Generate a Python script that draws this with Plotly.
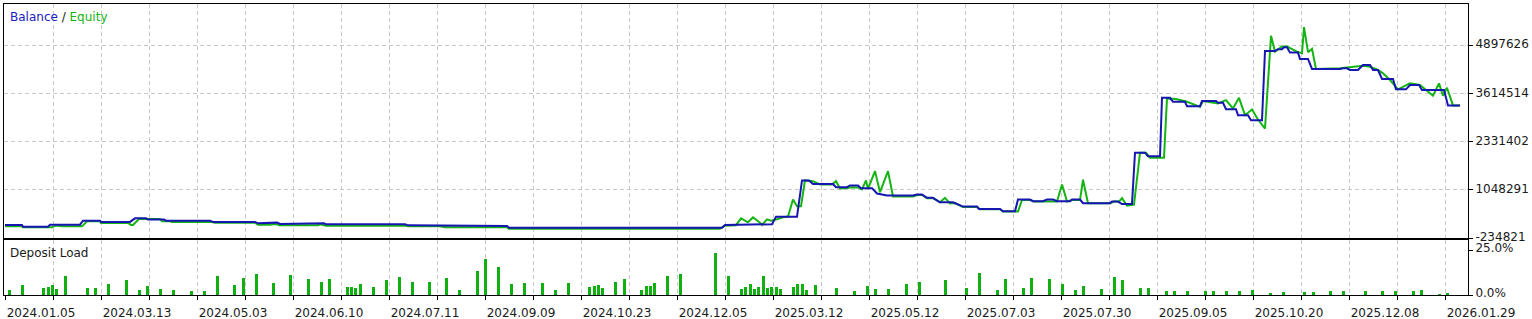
import plotly.graph_objects as go

# ---------------- data ----------------
date_labels = ["2024.01.05", "2024.03.13", "2024.05.03", "2024.06.10", "2024.07.11",
               "2024.09.09", "2024.10.23", "2024.12.05", "2025.03.12", "2025.05.12",
               "2025.07.03", "2025.07.30", "2025.09.05", "2025.10.20", "2025.12.08",
               "2026.01.29"]
date_ticks = [0, 96, 192, 288, 384, 480, 576, 672, 768, 864, 960, 1056, 1152, 1248, 1344, 1440]

balance_ticks = [-234821, 1048291, 2331402, 3614514, 4897626]

bal_deal = [0, 17, 18, 43, 45, 75, 78, 95, 96, 125, 130, 141, 143, 159, 161, 205, 208, 250,
            253, 264, 266, 272, 275, 312, 314, 319, 321, 400, 403, 435, 438, 502, 504, 717,
            720, 733, 735, 767, 771, 792, 797, 804, 808, 828, 831, 842, 845, 853, 856, 867,
            872, 882, 908, 912, 917, 922, 928, 935, 948, 958, 972, 974, 995, 998, 1010, 1013,
            1025, 1028, 1038, 1042, 1048, 1052, 1065, 1067, 1075, 1078, 1105, 1107, 1113, 1117,
            1127, 1130, 1140, 1143, 1155, 1157, 1165, 1168, 1180, 1182, 1195, 1197, 1211, 1213,
            1218, 1221, 1231, 1233, 1243, 1246, 1257, 1260, 1270, 1273, 1277, 1279, 1282, 1285,
            1293, 1295, 1303, 1307, 1335, 1338, 1342, 1345, 1353, 1358, 1365, 1368, 1373, 1377,
            1388, 1391, 1401, 1405, 1414, 1417, 1439, 1443, 1455]
balance = [112700, 112700, 67200, 67200, 120700, 120700, 227600, 227600, 192900, 192900,
           289100, 289100, 254400, 254400, 227600, 227600, 192900, 192900, 155500, 155500,
           174200, 174200, 139400, 139400, 155500, 155500, 128700, 128700, 102000, 102000,
           86000, 86000, 40500, 40500, 112700, 112700, 131400, 131400, 329200, 329200,
           1296900, 1296900, 1203300, 1203300, 1117800, 1117800, 1163200, 1163200, 1091100, 1091100,
           949400, 895900, 895900, 922700, 922700, 834400, 834400, 716800, 716800, 601900,
           601900, 540400, 540400, 476200, 476200, 789000, 789000, 743600, 743600, 789000,
           789000, 743600, 743600, 789000, 789000, 690100, 690100, 735500, 735500, 668700,
           668700, 2037400, 2037400, 1938500, 1938500, 3496900, 3496900, 3390000, 3390000, 3275000,
           3275000, 3408700, 3408700, 3363200, 3363200, 3194800, 3194800, 3034400, 3034400, 2900800,
           2900800, 4745300, 4745300, 4790700, 4790700, 4844200, 4844200, 4699800, 4699800, 4531400,
           4531400, 4264100, 4264100, 4282800, 4282800, 4237400, 4237400, 4371000, 4371000, 4237400,
           4237400, 3996800, 3996800, 3721400, 3721400, 3836400, 3836400, 3702700, 3702700, 3293700,
           3293700]

eq_deal = [0, 17, 18, 47, 51, 57, 77, 82, 95, 96, 123, 126, 128, 134, 155, 157, 165, 167,
           207, 210, 250, 253, 265, 270, 275, 313, 315, 321, 400, 403, 435, 440, 502, 504,
           715, 720, 731, 736, 743, 748, 755, 757, 762, 766, 772, 778, 783, 788, 792, 796,
           800, 808, 815, 827, 831, 835, 842, 847, 853, 857, 861, 863, 870, 875, 883, 888,
           908, 912, 917, 922, 928, 935, 940, 945, 950, 958, 972, 975, 995, 998, 1013, 1017,
           1025, 1029, 1052, 1057, 1062, 1067, 1075, 1078, 1083, 1105, 1109, 1114, 1117, 1122,
           1129, 1135, 1141, 1145, 1159, 1162, 1171, 1182, 1195, 1198, 1213, 1221, 1228, 1234,
           1240, 1247, 1253, 1260, 1266, 1270, 1277, 1282, 1292, 1297, 1299, 1303, 1307, 1311,
           1335, 1358, 1365, 1373, 1378, 1385, 1393, 1405, 1415, 1428, 1434, 1438, 1442, 1448,
           1455]
equity = [75300, 75300, 48500, 48500, 99300, 75300, 75300, 208900, 208900, 166200,
          166200, 112700, 112700, 273100, 273100, 208900, 208900, 192900, 192900, 174200,
          174200, 120700, 120700, 139400, 102000, 102000, 128700, 94000, 94000, 75300,
          75300, 53900, 53900, 13800, 13800, 94000, 107300, 289100, 182200, 315800,
          174200, 112700, 262400, 227600, 262400, 315800, 334600, 789000, 609900, 609900,
          1296900, 1278200, 1190000, 1190000, 1278200, 1083000, 1096400, 1117800, 1109800, 1056300,
          1296900, 1075000, 1545500, 984100, 1545500, 869200, 869200, 909300, 909300, 823700,
          823700, 716800, 834400, 682100, 695400, 588500, 588500, 529700, 529700, 468200,
          468200, 775600, 775600, 735500, 735500, 1190000, 735500, 775600, 775600, 1315600,
          690100, 690100, 735500, 735500, 823700, 628600, 655300, 2037400, 2037400, 1903700,
          1903700, 3480900, 3462100, 3390000, 3256300, 3408700, 3347200, 3435400, 3213500, 3496900,
          3034400, 3186800, 2919500, 2678900, 5146200, 4726500, 4860200, 4860200, 4726500, 4683800,
          5378800, 4710500, 4798700, 4264100, 4282800, 4352300, 4325600, 4237400, 4149100, 3970000,
          3721400, 3881800, 3836400, 3550400, 3881800, 3550400, 3764200, 3293700, 3293700]

load_deal = [4, 17, 38, 43, 47, 51, 60, 82, 90, 103, 121, 134, 142, 155, 168, 186, 199, 212,
             229, 238, 251, 268, 285, 303, 316, 324, 342, 346, 350, 355, 368, 381, 394, 407,
             424, 441, 454, 472, 480, 493, 506, 519, 537, 550, 563, 584, 589, 593, 597, 610,
             619, 636, 641, 645, 649, 662, 675, 710, 723, 736, 740, 745, 749, 753, 758, 762,
             766, 771, 775, 788, 792, 797, 801, 810, 831, 849, 862, 870, 883, 901, 914, 940,
             961, 974, 992, 1000, 1018, 1026, 1044, 1057, 1070, 1078, 1096, 1109, 1117, 1135,
             1143, 1161, 1169, 1182, 1200, 1208, 1221, 1234, 1247, 1265, 1278, 1299, 1308, 1325,
             1338, 1360, 1377, 1390, 1408, 1416, 1434, 1442]
load_pct = [2.6, 5.4, 3.7, 4.3, 5.4, 3.1, 10.4, 3.7, 3.7, 5.9, 8.1, 2.6, 4.8, 3.1, 2.6, 2.0,
            2.0, 10.4, 5.4, 9.3, 11.5, 6.5, 10.9, 8.7, 7.0, 8.7, 4.3, 4.6, 3.7, 5.9, 4.3, 8.1,
            9.8, 7.0, 7.0, 9.3, 2.6, 13.1, 19.8, 15.4, 5.9, 6.5, 6.5, 2.6, 6.5, 4.3, 4.8, 5.4,
            3.7, 7.0, 8.7, 2.6, 4.8, 4.8, 6.5, 10.4, 11.5, 23.1, 10.4, 3.1, 4.3, 5.9, 3.1, 4.3,
            10.4, 3.7, 4.3, 4.3, 3.1, 4.3, 5.9, 5.9, 2.6, 5.4, 3.7, 2.0, 4.8, 3.1, 3.1, 5.9,
            7.0, 8.1, 3.7, 12.4, 2.6, 8.7, 3.7, 9.3, 8.7, 5.9, 2.6, 4.8, 3.1, 9.8, 8.1, 3.7,
            3.7, 2.0, 2.0, 2.0, 2.0, 2.0, 2.0, 2.0, 2.6, 0.9, 1.5, 1.5, 1.5, 2.0, 2.0, 2.0,
            2.0, 2.0, 2.0, 2.6, 0.4, 0.9]

assert len(bal_deal) == len(balance)
assert len(eq_deal) == len(equity)
assert len(load_deal) == len(load_pct)

# ---------------- styles ----------------
BLUE = "#1616b0"
GREEN = "#14b414"
BAR_GREEN = "#10b010"
GRID = "#c8c8c8"
TXT = "#1a1a1a"
FONT = "DejaVu Sans"

fig = go.Figure()
fig.add_trace(go.Scatter(x=eq_deal, y=equity, mode="lines", line=dict(color=GREEN, width=2),
                         xaxis="x", yaxis="y", hoverinfo="skip", showlegend=False))
fig.add_trace(go.Scatter(x=bal_deal, y=balance, mode="lines", line=dict(color=BLUE, width=2),
                         xaxis="x", yaxis="y", hoverinfo="skip", showlegend=False))
fig.add_trace(go.Bar(x=load_deal, y=load_pct, width=3, marker=dict(color=BAR_GREEN, line=dict(width=0)),
                     xaxis="x2", yaxis="y2", hoverinfo="skip", showlegend=False))

xr = [-1, 1463]
grid_minor = dict(dtick=48, tick0=0, showgrid=True, gridcolor=GRID, griddash="4px,3px", gridwidth=1)

fig.update_layout(
    width=1532, height=319, autosize=False,
    margin=dict(l=4, r=64, t=4, b=24, pad=0),
    paper_bgcolor="white", plot_bgcolor="white",
    font=dict(family=FONT, size=12, color=TXT),
    bargap=0,
    xaxis=dict(domain=[0, 1], range=xr, anchor="y", tickmode="linear", dtick=48, tick0=0,
               automargin=False,
               showticklabels=False, ticks="", showgrid=True, gridcolor=GRID, griddash="4px,3px",
               zeroline=False, showline=True, linecolor="black", linewidth=1, mirror=True),
    yaxis=dict(domain=[57 / 291, 1], range=[-234821, 5993619], side="right", anchor="x",
               automargin=False,
               tickmode="array", tickvals=balance_ticks, ticktext=[str(v) for v in balance_ticks],
               ticks="outside", ticklen=4, tickcolor="black", ticklabelshift=-1,
               showgrid=True, gridcolor=GRID,
               griddash="4px,3px", zeroline=False, showline=True, linecolor="black", linewidth=1,
               mirror=True, tickfont=dict(family=FONT, size=12, color=TXT)),
    xaxis2=dict(domain=[0, 1], range=xr, anchor="y2", tickmode="array", tickvals=date_ticks,
                automargin=False,
                ticktext=date_labels, ticks="outside", ticklen=4, tickcolor="black",
                ticklabelshift=36, ticklabelstandoff=3, showgrid=True, gridcolor=GRID,
                griddash="4px,3px",
                minor=dict(ticks="outside", ticklen=4, tickcolor="black", **grid_minor),
                zeroline=False, showline=True, linecolor="black", linewidth=1, mirror=True,
                tickfont=dict(family=FONT, size=12, color=TXT)),
    yaxis2=dict(domain=[0, 55 / 291], range=[0, 25 * 55 / 45], side="right", anchor="x2",
                automargin=False,
                tickmode="array", tickvals=[0, 25], ticktext=["0.0%", "25.0%"],
                ticks="outside", ticklen=4, tickcolor="black", ticklabelshift=-2,
                showgrid=False, zeroline=False,
                showline=True, linecolor="black", linewidth=1, mirror=True,
                tickfont=dict(family=FONT, size=12, color=TXT)),
    annotations=[
        dict(xref="paper", yref="paper", x=0, y=1, xanchor="left", yanchor="top",
             xshift=4, yshift=-4, showarrow=False,
             text="<span style='color:#2020c0'>Balance</span> / <span style='color:#14b414'>Equity</span>",
             font=dict(family=FONT, size=12, color=TXT)),
        dict(xref="paper", yref="paper", x=0, y=55 / 291, xanchor="left", yanchor="top",
             xshift=4, yshift=-4, showarrow=False, text="Deposit Load",
             font=dict(family=FONT, size=12, color=TXT)),
    ],
)

fig.write_html("out.html")
